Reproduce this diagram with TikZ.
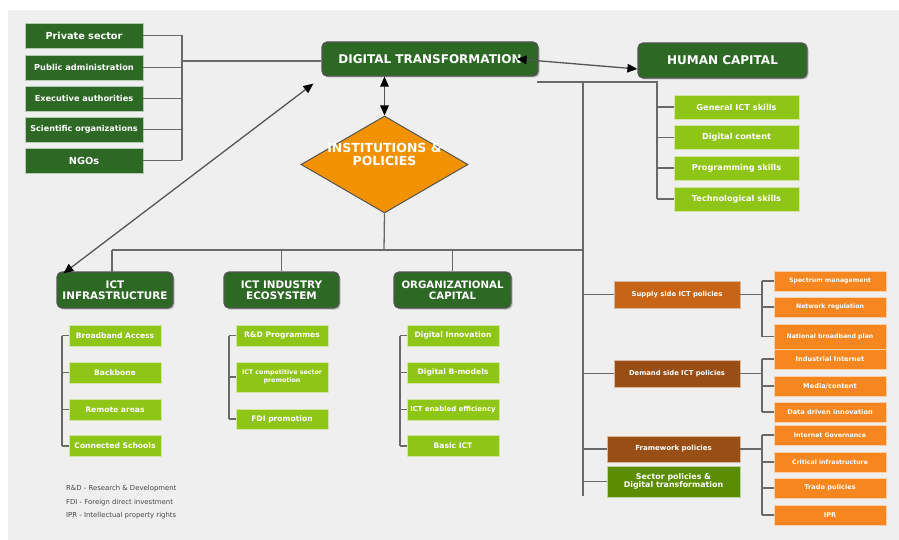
\documentclass[tikz,border=0pt]{standalone}
\usepackage{fontspec}
\setmainfont{DejaVu Sans}
\usetikzlibrary{arrows.meta,shapes.geometric,shadows,calc}

\definecolor{bg}{RGB}{239,239,239}
\definecolor{darkgreen}{RGB}{45,104,37}
\definecolor{lightgreen}{RGB}{142,197,22}
\definecolor{orangebox}{RGB}{245,134,32}
\definecolor{supplybrown}{RGB}{199,100,22}
\definecolor{darkbrown}{RGB}{153,78,21}
\definecolor{sectorgreen}{RGB}{90,141,2}
\definecolor{diamondorange}{RGB}{243,146,0}
\definecolor{linegray}{RGB}{105,105,105}
\definecolor{edgegray}{RGB}{85,85,85}
\definecolor{legendgray}{RGB}{70,70,70}

\newcommand{\fs}[1]{\fontsize{#1}{1.2\dimexpr #1pt\relax}\selectfont}

\begin{document}
\begin{tikzpicture}[x=1pt,y=-1pt,
  box/.style={inner sep=0pt, align=center, text=white, font=\bfseries},
  actor/.style={box, fill=darkgreen, draw=white!65!darkgreen, line width=0.5pt, minimum width=118pt, minimum height=25pt},
  pillar/.style={box, fill=darkgreen, draw=edgegray, line width=1.2pt, rounded corners=5pt,
    drop shadow={shadow xshift=1.5pt, shadow yshift=-1.5pt, fill=black, opacity=0.22}},
  item/.style={box, fill=lightgreen, draw=white!60!lightgreen, line width=0.5pt, minimum width=92pt, minimum height=21pt, font=\bfseries\fs{7.6}},
  skill/.style={item, minimum width=125pt, minimum height=24pt, font=\bfseries\fs{8.2}},
  policy/.style={box, draw=white!60!darkbrown, line width=0.5pt, font=\bfseries\fs{6.8}},
  leaf/.style={box, fill=orangebox, draw=white!60!orangebox, line width=0.5pt, minimum width=112pt, minimum height=20pt, font=\bfseries\fs{6.2}},
  wire/.style={draw=linegray, line width=1.3pt},
  link/.style={draw=edgegray, line width=1.3pt,
    {Triangle[length=10pt,width=8.5pt,color=black]}-{Triangle[length=10pt,width=8.5pt,color=black]}},
  legend/.style={anchor=west, inner sep=0pt, text=legendgray, font=\fs{6.9}}
]
\useasboundingbox (0,0) rectangle (899,540);
\fill[bg] (8,10) rectangle (899,540);

% ---- stakeholders ----
\node[actor, font=\bfseries\fs{9.7}] (ps)  at (84,35.5)  {Private sector};
\node[actor, font=\bfseries\fs{8.25}] (pa)  at (84,67.5)  {Public administration};
\node[actor, font=\bfseries\fs{8.2}] (ea)  at (84,98.5)  {Executive authorities};
\node[actor, font=\bfseries\fs{8.1}] (so)  at (84,129.5) {Scientific organizations};
\node[actor, font=\bfseries\fs{9.7}] (ngo) at (84,160.5) {NGOs};

% ---- main pillars ----
\node[pillar, minimum width=216pt, minimum height=34pt, font=\bfseries\fs{12}] (dt) at (430,59) {DIGITAL TRANSFORMATION};
\node[pillar, minimum width=169pt, minimum height=35pt, font=\bfseries\fs{12}] (hc) at (722.5,60.5) {HUMAN CAPITAL};
\node[diamond, fill=diamondorange, draw=edgegray, line width=1pt, inner sep=0pt,
      minimum width=167pt, minimum height=97pt] (inst) at (384.5,164.5) {};
\node[text=white, align=center, inner sep=0pt, font=\bfseries\fs{12.5}] (insttext) at (384.5,154) {INSTITUTIONS \&\\[-2pt]POLICIES};

\node[pillar, minimum width=116pt, minimum height=36pt, font=\bfseries\fs{10.4}] (infra) at (115,290)   {ICT\\[-1.5pt]INFRASTRUCTURE};
\node[pillar, minimum width=115pt, minimum height=36pt, font=\bfseries\fs{10.4}] (indus) at (281.5,290) {ICT INDUSTRY\\[-1.5pt]ECOSYSTEM};
\node[pillar, minimum width=117pt, minimum height=36pt, font=\bfseries\fs{10.2}] (orgc)  at (452.5,290) {ORGANIZATIONAL\\[-1.5pt]CAPITAL};

% ---- human capital items ----
\node[skill] (hs1) at (736.5,107)   {General ICT skills};
\node[skill] (hs2) at (736.5,137.5) {Digital content};
\node[skill] (hs3) at (736.5,168)   {Programming skills};
\node[skill] (hs4) at (736.5,199)   {Technological skills};

% ---- infrastructure items ----
\node[item] (i1) at (115,335.5) {Broadband Access};
\node[item] (i2) at (115,372.5) {Backbone};
\node[item] (i3) at (115,409.5) {Remote areas};
\node[item] (i4) at (115,446)   {Connected Schools};

% ---- industry items ----
\node[item] (e1) at (282,335.5) {R\&D Programmes};
\node[item, minimum height=30pt, font=\bfseries\fs{6.3}] (e2) at (282,377) {ICT competitive sector\\promotion};
\node[item, minimum height=20pt] (e3) at (282,419) {FDI promotion};

% ---- organizational items ----
\node[item] (o1) at (453,335.5) {Digital Innovation};
\node[item] (o2) at (453,372.5) {Digital B-models};
\node[item, font=\bfseries\fs{6.9}] (o3) at (453,409.5) {ICT enabled efficiency};
\node[item] (o4) at (453,446)   {Basic ICT};

% ---- policy groups ----
\node[policy, fill=supplybrown, minimum width=126pt, minimum height=27pt] (sup) at (677,294.5) {Supply side ICT policies};
\node[policy, fill=darkbrown,   minimum width=126pt, minimum height=27pt] (dem) at (677,373.5) {Demand side ICT policies};
\node[policy, fill=darkbrown,   minimum width=133pt, minimum height=26pt, font=\bfseries\fs{7}] (fw) at (673.5,449) {Framework policies};
\node[policy, fill=sectorgreen, draw=white!60!sectorgreen, minimum width=133pt, minimum height=31pt, font=\bfseries\fs{7.9}] (sec) at (673.5,481.5) {Sector policies \&\\[-1pt]Digital transformation};

% ---- policy leaves ----
\node[leaf] (l1)  at (830,281)   {Spectrum management};
\node[leaf] (l2)  at (830,307)   {Network regulation};
\node[leaf, minimum height=25pt] (l3) at (830,336.5) {National broadband plan};
\node[leaf, font=\bfseries\fs{6.6}] (l4)  at (830,359) {Industrial Internet};
\node[leaf, font=\bfseries\fs{6.6}] (l5)  at (830,386) {Media/content};
\node[leaf, font=\bfseries\fs{6.6}] (l6)  at (830,412) {Data driven innovation};
\node[leaf] (l7)  at (830,435)   {Internet Governance};
\node[leaf] (l8)  at (830,462)   {Critical infrastructure};
\node[leaf, font=\bfseries\fs{6.6}] (l9)  at (830,488) {Trade policies};
\node[leaf, font=\bfseries\fs{6.6}] (l10) at (830,515) {IPR};

% ---- legend ----
\node[legend] (lg1) at (66,489) {R\&D - Research \& Development};
\node[legend] (lg2) at (66,503) {FDI - Foreign direct investment};
\node[legend] (lg3) at (66,516) {IPR - Intellectual property rights};

% ---- bracket anchors ----
\coordinate (hub)    at (182,61);
\coordinate (dtfoot) at (537,82);
\coordinate (trunk)  at (583,82);
\coordinate (trunkend) at (583,496);
\coordinate (hcbus)  at (657,82);
\coordinate (bus)    at (384,250);
\coordinate (infratop) at (112,272);
\coordinate (ib)     at (62,0);
\coordinate (eb)     at (229,0);
\coordinate (ob)     at (400,0);
\coordinate (lb)     at (762,0);

% stakeholders into digital transformation
\foreach \n in {ps,pa,ea,so,ngo} \draw[wire] (\n.east) -- (\n.east -| hub);
\draw[wire] (ps.east -| hub) -- (ngo.east -| hub);
\draw[wire] (hub) -- (hub -| dt.west);

% human capital bracket and policy trunk
\draw[wire] (dtfoot) -- (hcbus) -- (hcbus |- hs4.west);
\foreach \n in {hs1,hs2,hs3,hs4} \draw[wire] (\n.west -| hcbus) -- (\n.west);
\draw[wire] (trunk) -- (trunkend);

% institutions bus
\draw[wire] (inst.south) -- (bus);
\draw[wire] (infratop |- bus) -- (bus -| trunk);
\draw[wire] (infratop |- bus) -- (infratop);
\foreach \n in {indus,orgc} \draw[wire] (\n.north |- bus) -- (\n.north);

% item brackets
\draw[wire] (i1.west -| ib) -- (i4.west -| ib);
\foreach \n in {i1,i2,i3,i4} \draw[wire] (\n.west -| ib) -- (\n.west);
\draw[wire] (e1.west -| eb) -- (e3.west -| eb);
\foreach \n in {e1,e2,e3} \draw[wire] (\n.west -| eb) -- (\n.west);
\draw[wire] (o1.west -| ob) -- (o4.west -| ob);
\foreach \n in {o1,o2,o3,o4} \draw[wire] (\n.west -| ob) -- (\n.west);

% policy groups from the trunk
\foreach \n in {sup,dem,fw,sec} \draw[wire] (\n.west -| trunk) -- (\n.west);

% policy leaves
\draw[wire] (sup.east) -- (sup.east -| lb);
\draw[wire] (l1.west -| lb) -- (l3.west -| lb);
\foreach \n in {l1,l2,l3} \draw[wire] (\n.west -| lb) -- (\n.west);
\draw[wire] (dem.east) -- (dem.east -| lb);
\draw[wire] (l4.west -| lb) -- (l6.west -| lb);
\foreach \n in {l4,l5,l6} \draw[wire] (\n.west -| lb) -- (\n.west);
\draw[wire] (fw.east) -- (fw.east -| lb);
\draw[wire] (l7.west -| lb) -- (l10.west -| lb);
\foreach \n in {l7,l8,l9,l10} \draw[wire] (\n.west -| lb) -- (\n.west);

% two-way links
\draw[link] ([xshift=-22pt]dt.east) -- ([yshift=-8.5pt]hc.west);
\draw[link] (inst.north |- dt.south) -- (inst.north);
\draw[link] ([xshift=-8pt,yshift=-7pt]dt.south west) -- ([xshift=7pt,yshift=-2pt]infra.north west);
\end{tikzpicture}
\end{document}
